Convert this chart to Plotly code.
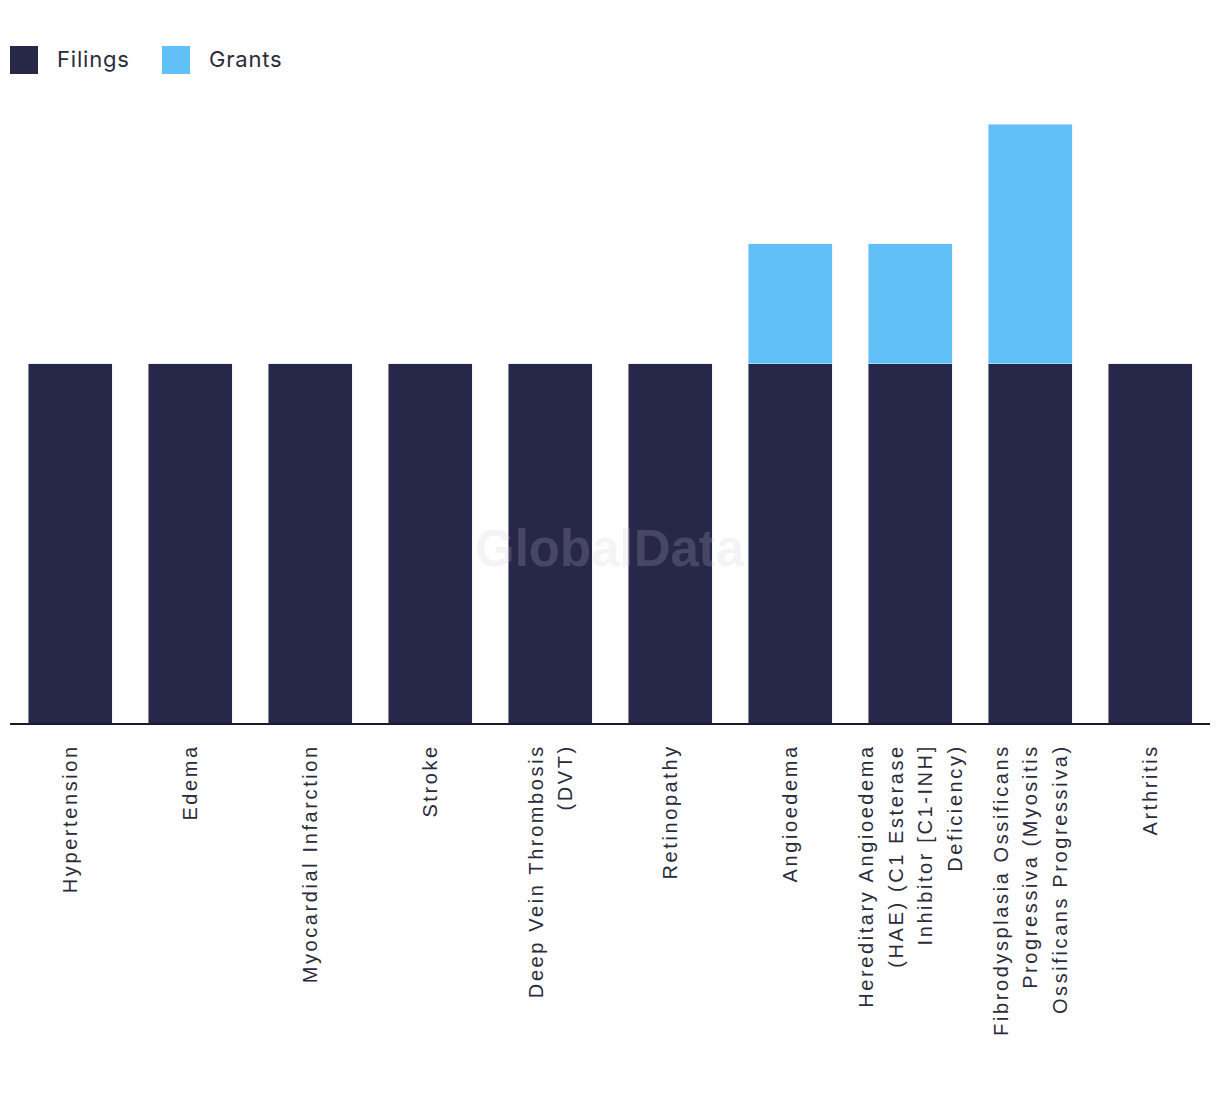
import plotly.graph_objects as go

categories = [
    "Hypertension",
    "Edema",
    "Myocardial Infarction",
    "Stroke",
    "Deep Vein Thrombosis<br>(DVT)",
    "Retinopathy",
    "Angioedema",
    "Hereditary Angioedema<br>(HAE) (C1 Esterase<br>Inhibitor [C1-INH]<br>Deficiency)",
    "Fibrodysplasia Ossificans<br>Progressiva (Myositis<br>Ossificans Progressiva)",
    "Arthritis",
]
filings = [3, 3, 3, 3, 3, 3, 3, 3, 3, 3]
grants = [0, 0, 0, 0, 0, 0, 1, 1, 2, 0]
series_names = ["Filings", "Grants"]
series_colors = ["#27274A", "#62C0F8"]

W, H = 1220, 1094
ML, MR, MT, MB = 10, 10, 124, 371
PW, PH = W - ML - MR, H - MT - MB


def styled(label):
    lines = label.split("<br>")
    return "<br>".join(
        f'<span style="font-size:20px;letter-spacing:2.6px">{ln}</span>' for ln in lines
    )


ticktext = [styled(c) for c in categories]

fig = go.Figure()
fig.add_trace(go.Bar(name=series_names[0], x=categories, y=filings, marker_color=series_colors[0]))
fig.add_trace(go.Bar(name=series_names[1], x=categories, y=grants, marker_color=series_colors[1]))


def px_x(px):
    return (px - ML) / PW


def px_y(py):
    return (H - MB - py) / PH


shapes = []
annotations = []
legend_items = [(10, 55), (162, 207)]
for (sx, tx), name, col in zip(legend_items, series_names, series_colors):
    shapes.append(dict(
        type="rect", xref="paper", yref="paper",
        x0=px_x(sx), x1=px_x(sx + 28), y0=px_y(74), y1=px_y(46),
        fillcolor=col, line=dict(width=0),
    ))
    annotations.append(dict(
        text=f'<span style="letter-spacing:0.8px">{name}</span>',
        xref="paper", yref="paper", x=px_x(tx), y=px_y(59),
        xanchor="left", yanchor="middle", showarrow=False,
        font=dict(size=22, family="Inter, Liberation Sans, sans-serif", color="#2B2B3B"),
    ))

annotations.append(dict(
    text="<b>GlobalData</b>",
    x=0.5, y=px_y(548), xref="paper", yref="paper",
    xanchor="center", yanchor="middle",
    showarrow=False,
    font=dict(size=51, family="Liberation Sans, Arial, sans-serif", color="rgba(200,200,212,0.2)"),
))

fig.update_layout(
    barmode="stack",
    bargap=0.3,
    width=W,
    height=H,
    margin=dict(l=ML, r=MR, t=MT, b=MB),
    plot_bgcolor="white",
    paper_bgcolor="white",
    showlegend=False,
    font=dict(family="Liberation Sans, Arial, sans-serif", size=20, color="#2B2B3B"),
    xaxis=dict(
        tickmode="array",
        tickvals=categories,
        ticktext=ticktext,
        tickangle=-90,
        showline=True,
        linecolor="#1A1A2E",
        linewidth=2,
        ticks="outside",
        ticklen=10,
        tickcolor="rgba(0,0,0,0)",
        showgrid=False,
        tickfont=dict(size=23, color="#2B2B3B"),
    ),
    yaxis=dict(
        range=[0, 5],
        showticklabels=False,
        showgrid=False,
        zeroline=False,
        showline=False,
    ),
    shapes=shapes,
    annotations=annotations,
)

fig.write_html("out.html")
